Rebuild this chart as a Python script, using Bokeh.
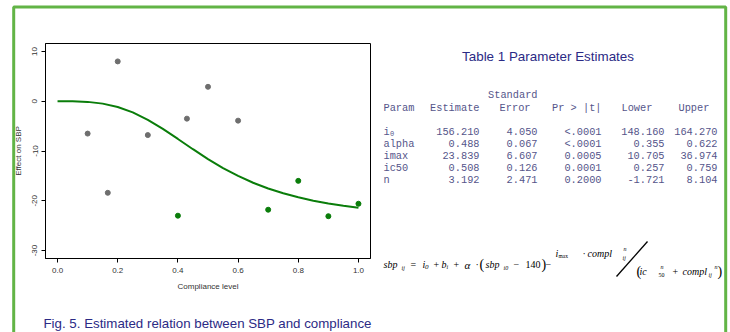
from bokeh.plotting import figure
from bokeh.models import Range1d, FixedTicker, Label, BoxAnnotation
from bokeh.embed import file_html
from bokeh.resources import INLINE

# ---------------- data ----------------
grey_x = [0.1, 0.167, 0.2, 0.3, 0.43, 0.5, 0.6]
grey_y = [-6.5, -18.4, 8.0, -6.8, -3.5, 2.9, -3.9]
green_x = [0.4, 0.7, 0.8, 0.9, 1.0]
green_y = [-23.0, -21.8, -16.0, -23.1, -20.6]
curve_x = [0.0, 0.05, 0.1, 0.15, 0.2, 0.25, 0.3, 0.35, 0.4, 0.45, 0.5,
           0.55, 0.6, 0.65, 0.7, 0.75, 0.8, 0.85, 0.9, 0.95, 1.0]
curve_y = [0.0, -0.01, -0.13, -0.48, -1.16, -2.25, -3.74, -5.57, -7.58, -9.64, -11.62,
           -13.42, -15.01, -16.38, -17.54, -18.50, -19.31, -19.98, -20.53, -20.99, -21.38]
x_ticks = [0.0, 0.2, 0.4, 0.6, 0.8, 1.0]
x_tick_labels = ["0.0", "0.2", "0.4", "0.6", "0.8", "1.0"]
y_ticks = [-30, -20, -10, 0, 10]
y_tick_labels = ["-30", "-20", "-10", "0", "10"]
x_label = "Compliance level"
y_label = "Effect on SBP"

table_title = "Table 1 Parameter Estimates"
param_names = ["i", "alpha", "imax", "ic50", "n"]
estimates = [156.210, 0.488, 23.839, 0.508, 3.192]
std_errors = [4.050, 0.067, 6.607, 0.126, 2.471]
p_values = ["<.0001", "<.0001", "0.0005", "0.0001", "0.2000"]
lower = [148.160, 0.355, 10.705, 0.257, -1.721]
upper = [164.270, 0.622, 36.974, 0.759, 8.104]
caption = "Fig. 5. Estimated relation between SBP and compliance"

NAVY = "#2b2a85"
TABLE_C = "#55558a"
GREEN = "#0a7d0a"
GREY = "#6e6e6e"
FRAME_G = "#62b446"

# ---------------- geometry ----------------
W, H = 730, 332
BOX_L, BOX_R, BOX_T, BOX_B = 45, 370, 43, 258       # plot box in pixels
XLO, XHI = -0.04, 1.04                              # data extent of plot box
YLO, YHI = -31.6, 11.6
kx = (BOX_R - BOX_L) / (XHI - XLO)
ky = (BOX_B - BOX_T) / (YHI - YLO)
x_range = Range1d(XLO - BOX_L / kx, XHI + (W - BOX_R) / kx)
y_range = Range1d(YLO - (H - BOX_B) / ky, YHI + BOX_T / ky)

p = figure(width=W, height=H, output_backend="svg", toolbar_location=None, title=None,
           x_range=x_range, y_range=y_range,
           min_border_left=0, min_border_right=0, min_border_top=0, min_border_bottom=0)
p.background_fill_color = "white"
p.border_fill_color = "white"
p.outline_line_color = None
p.grid.visible = False
p.extra_x_ranges = {"px": Range1d(0, W)}
p.extra_y_ranges = {"px": Range1d(H, 0)}

# plot box
p.add_layout(BoxAnnotation(left=XLO, right=XHI, bottom=YLO, top=YHI, fill_alpha=0,
                           line_color="black", line_alpha=1, line_width=1))

p.line(curve_x, curve_y, line_color=GREEN, line_width=2)
p.scatter(grey_x, grey_y, size=5, fill_color=GREY, line_color=GREY)
p.scatter(green_x, green_y, size=5, fill_color=GREEN, line_color=GREEN)

xa, ya = p.xaxis[0], p.yaxis[0]
xa.fixed_location = YLO
ya.fixed_location = XLO
xa.bounds = (XLO, XHI)
ya.bounds = (YLO, YHI)
for ax in (xa, ya):
    ax.axis_line_color = "black"
    ax.major_tick_line_color = "black"
    ax.major_tick_out = 4
    ax.major_tick_in = 0
    ax.minor_tick_line_color = None
    ax.major_label_text_font = "Liberation Sans"
    ax.major_label_text_font_size = "8px"
    ax.major_label_text_color = "#333333"
    ax.axis_label_text_font = "Liberation Sans"
    ax.axis_label_text_font_size = "8px"
    ax.axis_label_text_font_style = "normal"
    ax.axis_label_text_color = "#333333"

xa.ticker = FixedTicker(ticks=x_ticks)
xa.major_label_overrides = {t: s for t, s in zip(x_ticks, x_tick_labels)}
xa.axis_label = x_label
xa.major_label_standoff = 5
xa.axis_label_standoff = 6

ya.ticker = FixedTicker(ticks=y_ticks)
ya.major_label_overrides = {t: s for t, s in zip(y_ticks, y_tick_labels)}
ya.axis_label = y_label
ya.major_label_orientation = "vertical"
ya.major_label_standoff = 4
ya.axis_label_standoff = 7


def lab(text, x, y, size, font="Liberation Sans", style="normal", color="black",
        align="left", baseline="middle"):
    p.add_layout(Label(x=x, y=y, x_range_name="px", y_range_name="px", text=text,
                       text_font=font, text_font_size=f"{size}px", text_font_style=style,
                       text_color=color, text_align=align, text_baseline=baseline))


# green frame
p.add_layout(BoxAnnotation(left=13.2, right=725.2, top=6.5, bottom=345, x_range_name="px",
                           y_range_name="px", fill_alpha=0, line_color=FRAME_G,
                           line_alpha=1, line_width=3))

lab(caption, 43, 323, 13.3, color=NAVY)
lab(table_title, 547.5, 56, 13.4, color=NAVY, align="center")

MONO = "Liberation Mono"
TS = 10.3
lab("Standard", 537, 94, TS, font=MONO, color=TABLE_C, align="right")
lab("Param", 383, 107, TS, font=MONO, color=TABLE_C)
lab("Estimate", 479, 107, TS, font=MONO, color=TABLE_C, align="right")
lab("Error", 530, 107, TS, font=MONO, color=TABLE_C, align="right")
lab("Pr > |t|", 601, 107, TS, font=MONO, color=TABLE_C, align="right")
lab("Lower", 621, 107, TS, font=MONO, color=TABLE_C)
lab("Upper", 678, 107, TS, font=MONO, color=TABLE_C)
row_y = [131, 143, 155, 167, 179]
for i, yy in enumerate(row_y):
    lab(param_names[i], 383, yy, TS, font=MONO, color=TABLE_C)
    if i == 0:
        lab("0", 389.5, yy + 2, 7, font=MONO, color=TABLE_C)
    lab(f"{estimates[i]:.3f}", 479, yy, TS, font=MONO, color=TABLE_C, align="right")
    lab(f"{std_errors[i]:.3f}", 537, yy, TS, font=MONO, color=TABLE_C, align="right")
    lab(p_values[i], 601, yy, TS, font=MONO, color=TABLE_C, align="right")
    lab(f"{lower[i]:.3f}", 664, yy, TS, font=MONO, color=TABLE_C, align="right")
    lab(f"{upper[i]:.3f}", 717, yy, TS, font=MONO, color=TABLE_C, align="right")

SER = "Liberation Serif"
M, N, D = 264, 253, 271
FS = 10
parts = [
    ("sbp", 383, M, FS, "italic"), ("ij", 401, M + 3, 6, "italic"),
    ("=", 410, M, FS, "normal"),
    ("i", 422, M, FS, "italic"), ("0", 424.5, M + 2, 7, "italic"),
    ("+", 433, M, FS, "normal"),
    ("b", 441, M, FS, "italic"), ("i", 446, M + 2, 6, "italic"),
    ("+", 453, M, FS, "normal"),
    ("α", 464, M, 11, "italic"), ("·", 475, M, FS, "normal"),
    ("(", 479, M, 14, "normal"),
    ("sbp", 485, M, FS, "italic"), ("i0", 503, M + 3, 6, "italic"),
    ("−", 513, M, FS, "normal"), ("140", 525, M, FS, "normal"),
    (")", 541, M, 14, "normal"), ("−", 545, M, FS, "normal"),
    ("i", 555, N, FS, "italic"), ("max", 558, N + 2, 5.5, "normal"),
    ("·", 582, N, FS, "normal"), ("compl", 587, N, FS, "italic"),
    ("n", 623, N - 5, 6, "italic"), ("ij", 622, N + 4, 6, "italic"),
    ("(", 636, D, 14, "normal"), ("ic", 639, D, FS, "italic"),
    ("n", 660, D - 5, 6, "italic"), ("50", 658, D + 3, 6, "normal"),
    ("+", 672, D, FS, "normal"), ("compl", 682, D, FS, "italic"),
    ("ij", 708, D + 3, 6, "italic"), ("n", 714, D - 5, 6, "italic"),
    (")", 717, D, 14, "normal"),
]
for t, x, y, s, st in parts:
    lab(t, x, y, s, font=SER, style=st)
p.segment(x0=[616], y0=[276], x1=[647], y1=[241], line_color="black", line_width=1.3,
          x_range_name="px", y_range_name="px")

open("out.html", "w").write(file_html(p, INLINE))
